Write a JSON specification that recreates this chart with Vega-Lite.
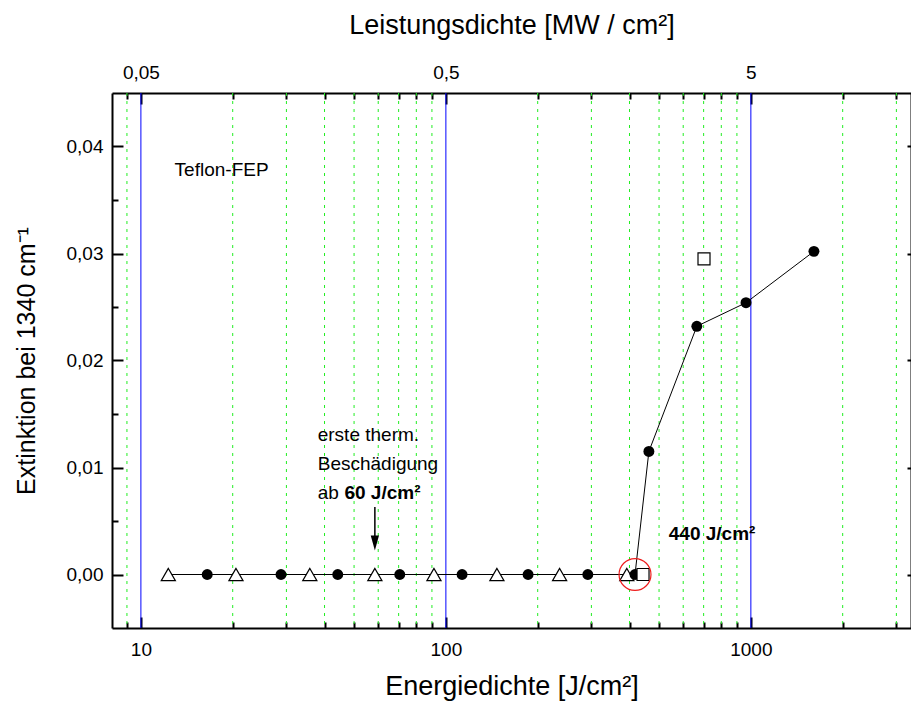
{
  "$schema": "https://vega.github.io/schema/vega-lite/v6.json",
  "width": 799,
  "height": 535,
  "autosize": "none",
  "padding": {"left": 112, "top": 93, "right": 0, "bottom": 85},
  "background": "white",
  "config": {
    "view": {"stroke": null},
    "font": "Liberation Sans",
    "axis": {
      "labelFont": "Liberation Sans",
      "titleFont": "Liberation Sans",
      "labelFontSize": 19,
      "titleFontSize": 27,
      "titleFontWeight": "normal",
      "labelColor": "black",
      "titleColor": "black",
      "domainColor": "black",
      "domainWidth": 2,
      "tickColor": "black",
      "tickWidth": 2,
      "grid": false
    }
  },
  "datasets": {
    "pts": [
      {"E": 12.3, "ext": 0, "series": "Dreieck"},
      {"E": 20.5, "ext": 0, "series": "Dreieck"},
      {"E": 35.8, "ext": 0, "series": "Dreieck"},
      {"E": 58.5, "ext": 0, "series": "Dreieck"},
      {"E": 91.4, "ext": 0, "series": "Dreieck"},
      {"E": 147, "ext": 0, "series": "Dreieck"},
      {"E": 236, "ext": 0, "series": "Dreieck"},
      {"E": 392, "ext": 0, "series": "Dreieck"},
      {"E": 16.5, "ext": 0, "series": "Kreis"},
      {"E": 28.8, "ext": 0, "series": "Kreis"},
      {"E": 44.2, "ext": 0, "series": "Kreis"},
      {"E": 70.6, "ext": 0, "series": "Kreis"},
      {"E": 113, "ext": 0, "series": "Kreis"},
      {"E": 186, "ext": 0, "series": "Kreis"},
      {"E": 292, "ext": 0, "series": "Kreis"},
      {"E": 417, "ext": 0, "series": "Kreis"},
      {"E": 463, "ext": 0.0115, "series": "Kreis"},
      {"E": 665, "ext": 0.0232, "series": "Kreis"},
      {"E": 964, "ext": 0.0254, "series": "Kreis"},
      {"E": 1610, "ext": 0.0302, "series": "Kreis"},
      {"E": 443, "ext": 0, "series": "Quadrat"},
      {"E": 702, "ext": 0.0295, "series": "Quadrat"}
    ],
    "minorGrid": [
      {"E": 9}, {"E": 20}, {"E": 30}, {"E": 40}, {"E": 50}, {"E": 60}, {"E": 70}, {"E": 80}, {"E": 90},
      {"E": 200}, {"E": 300}, {"E": 400}, {"E": 500}, {"E": 600}, {"E": 700}, {"E": 800}, {"E": 900},
      {"E": 2000}, {"E": 3000}
    ],
    "majorGrid": [{"E": 10}, {"E": 100}, {"E": 1000}],
    "one": [{}]
  },
  "resolve": {"axis": {"x": "independent", "y": "independent"}},
  "layer": [
    {
      "data": {"name": "minorGrid"},
      "mark": {"type": "rule", "color": "#22ee22", "strokeWidth": 1, "strokeDash": [3, 5]},
      "encoding": {
        "x": {
          "field": "E", "type": "quantitative",
          "scale": {"type": "log", "domain": [8.04, 3350], "nice": false},
          "axis": {"orient": "bottom", "values": [9, 20, 30, 40, 50, 60, 70, 80, 90, 200, 300, 400, 500, 600, 700, 800, 900, 2000, 3000], "labels": false, "tickSize": -6, "title": null, "domain": true}
        }
      }
    },
    {
      "data": {"name": "majorGrid"},
      "mark": {"type": "rule", "color": "#0000ff", "strokeWidth": 1},
      "encoding": {
        "x": {
          "field": "E", "type": "quantitative",
          "scale": {"type": "log", "domain": [8.04, 3350], "nice": false},
          "axis": {"orient": "bottom", "values": [10, 100, 1000], "labelExpr": "format(datum.value, 'd')", "tickSize": -11, "labelPadding": 23, "title": "Energiedichte [J/cm²]", "titlePadding": 14, "domain": false}
        }
      }
    },
    {
      "data": {"name": "pts"},
      "transform": [{"filter": "datum.series != 'Quadrat'"}],
      "mark": {"type": "line", "color": "black", "strokeWidth": 1},
      "encoding": {
        "x": {
          "field": "E", "type": "quantitative",
          "scale": {"type": "log", "domain": [8.04, 3350], "nice": false},
          "axis": {"orient": "top", "values": [9, 20, 30, 40, 50, 60, 70, 80, 90, 200, 300, 400, 500, 600, 700, 800, 900, 2000, 3000], "labels": false, "tickSize": -6, "title": null, "domain": true}
        },
        "y": {
          "field": "ext", "type": "quantitative",
          "scale": {"domain": [-0.005, 0.045], "nice": false, "zero": false},
          "axis": {"orient": "left", "values": [0, 0.01, 0.02, 0.03, 0.04], "labelExpr": "replace(format(datum.value, '.2f'), '.', ',')", "tickSize": -11, "labelPadding": 20, "title": "Extinktion bei 1340 cm⁻¹", "titleFontSize": 25, "titlePadding": 27, "domain": true}
        },
        "order": {"field": "E", "type": "quantitative"}
      }
    },
    {
      "data": {"name": "pts"},
      "transform": [{"filter": "datum.series == 'Dreieck'"}],
      "mark": {"type": "point", "shape": "triangle-up", "filled": true, "fill": "white", "stroke": "black", "strokeWidth": 1.2, "size": 200, "opacity": 1},
      "encoding": {
        "x": {
          "field": "E", "type": "quantitative",
          "scale": {"type": "log", "domain": [8.04, 3350], "nice": false},
          "axis": {"orient": "top", "values": [10, 100, 1000], "labelExpr": "datum.value == 10 ? '0,05' : datum.value == 100 ? '0,5' : '5'", "tickSize": -11, "labelPadding": 22, "title": "Leistungsdichte [MW / cm²]", "titlePadding": 24, "domain": false}
        },
        "y": {
          "field": "ext", "type": "quantitative",
          "scale": {"domain": [-0.005, 0.045], "nice": false, "zero": false},
          "axis": {"orient": "left", "values": [0.005, 0.015, 0.025, 0.035], "labels": false, "tickSize": -6, "title": null, "domain": false}
        }
      }
    },
    {
      "data": {"name": "pts"},
      "transform": [{"filter": "datum.series == 'Kreis'"}],
      "mark": {"type": "point", "shape": "circle", "filled": true, "color": "black", "size": 120, "opacity": 1},
      "encoding": {
        "x": {"field": "E", "type": "quantitative", "scale": {"type": "log", "domain": [8.04, 3350], "nice": false}, "axis": null},
        "y": {
          "field": "ext", "type": "quantitative",
          "scale": {"domain": [-0.005, 0.045], "nice": false, "zero": false},
          "axis": {"orient": "right", "values": [0, 0.01, 0.02, 0.03, 0.04], "labels": false, "tickSize": -4, "title": null, "domain": true}
        }
      }
    },
    {
      "data": {"name": "pts"},
      "transform": [{"filter": "datum.series == 'Quadrat'"}],
      "mark": {"type": "point", "shape": "square", "filled": true, "fill": "white", "stroke": "black", "strokeWidth": 1.2, "size": 144, "opacity": 1},
      "encoding": {
        "x": {"field": "E", "type": "quantitative", "scale": {"type": "log", "domain": [8.04, 3350], "nice": false}, "axis": null},
        "y": {"field": "ext", "type": "quantitative", "scale": {"domain": [-0.005, 0.045], "nice": false, "zero": false}, "axis": null}
      }
    },
    {
      "data": {"name": "one"},
      "mark": {"type": "point", "shape": "circle", "filled": false, "stroke": "#ee1c1c", "strokeWidth": 1.2, "size": 1020, "opacity": 1},
      "encoding": {
        "x": {"datum": 417, "type": "quantitative", "scale": {"type": "log", "domain": [8.04, 3350], "nice": false}, "axis": null},
        "y": {"datum": 0, "type": "quantitative", "scale": {"domain": [-0.005, 0.045], "nice": false, "zero": false}, "axis": null}
      }
    },
    {
      "data": {"name": "one"},
      "mark": {"type": "rule", "color": "black", "strokeWidth": 1.5},
      "encoding": {
        "x": {"datum": 58.5, "type": "quantitative", "scale": {"type": "log", "domain": [8.04, 3350], "nice": false}, "axis": null},
        "y": {"datum": 0.0063, "type": "quantitative", "scale": {"domain": [-0.005, 0.045], "nice": false, "zero": false}, "axis": null},
        "y2": {"datum": 0.0034}
      }
    },
    {
      "data": {"name": "one"},
      "mark": {"type": "point", "shape": "M-0.55,-1L0.55,-1L0,1Z", "filled": true, "color": "black", "size": 225, "opacity": 1},
      "encoding": {
        "x": {"datum": 58.5, "type": "quantitative", "scale": {"type": "log", "domain": [8.04, 3350], "nice": false}, "axis": null},
        "y": {"datum": 0.00294, "type": "quantitative", "scale": {"domain": [-0.005, 0.045], "nice": false, "zero": false}, "axis": null}
      }
    },
    {
      "data": {"name": "one"},
      "mark": {"type": "text", "align": "left", "baseline": "middle", "fontSize": 19, "font": "Liberation Sans", "color": "black"},
      "encoding": {
        "x": {"datum": 12.9, "type": "quantitative", "scale": {"type": "log", "domain": [8.04, 3350], "nice": false}, "axis": null},
        "y": {"datum": 0.0378, "type": "quantitative", "scale": {"domain": [-0.005, 0.045], "nice": false, "zero": false}, "axis": null},
        "text": {"value": "Teflon-FEP"}
      }
    },
    {
      "data": {"name": "one"},
      "mark": {"type": "text", "align": "left", "baseline": "middle", "fontSize": 19, "font": "Liberation Sans", "color": "black"},
      "encoding": {
        "x": {"datum": 38.0, "type": "quantitative", "scale": {"type": "log", "domain": [8.04, 3350], "nice": false}, "axis": null},
        "y": {"datum": 0.01308, "type": "quantitative", "scale": {"domain": [-0.005, 0.045], "nice": false, "zero": false}, "axis": null},
        "text": {"value": "erste therm."}
      }
    },
    {
      "data": {"name": "one"},
      "mark": {"type": "text", "align": "left", "baseline": "middle", "fontSize": 19, "font": "Liberation Sans", "color": "black"},
      "encoding": {
        "x": {"datum": 38.0, "type": "quantitative", "scale": {"type": "log", "domain": [8.04, 3350], "nice": false}, "axis": null},
        "y": {"datum": 0.01037, "type": "quantitative", "scale": {"domain": [-0.005, 0.045], "nice": false, "zero": false}, "axis": null},
        "text": {"value": "Beschädigung"}
      }
    },
    {
      "data": {"name": "one"},
      "mark": {"type": "text", "align": "left", "baseline": "middle", "fontSize": 19, "font": "Liberation Sans", "color": "black"},
      "encoding": {
        "x": {"datum": 38.0, "type": "quantitative", "scale": {"type": "log", "domain": [8.04, 3350], "nice": false}, "axis": null},
        "y": {"datum": 0.00766, "type": "quantitative", "scale": {"domain": [-0.005, 0.045], "nice": false, "zero": false}, "axis": null},
        "text": {"value": "ab"}
      }
    },
    {
      "data": {"name": "one"},
      "mark": {"type": "text", "align": "left", "baseline": "middle", "fontSize": 19, "fontWeight": "bold", "font": "Liberation Sans", "color": "black"},
      "encoding": {
        "x": {"datum": 46.5, "type": "quantitative", "scale": {"type": "log", "domain": [8.04, 3350], "nice": false}, "axis": null},
        "y": {"datum": 0.00766, "type": "quantitative", "scale": {"domain": [-0.005, 0.045], "nice": false, "zero": false}, "axis": null},
        "text": {"value": "60 J/cm²"}
      }
    },
    {
      "data": {"name": "one"},
      "mark": {"type": "text", "align": "left", "baseline": "middle", "fontSize": 19, "fontWeight": "bold", "font": "Liberation Sans", "color": "black"},
      "encoding": {
        "x": {"datum": 538, "type": "quantitative", "scale": {"type": "log", "domain": [8.04, 3350], "nice": false}, "axis": null},
        "y": {"datum": 0.00374, "type": "quantitative", "scale": {"domain": [-0.005, 0.045], "nice": false, "zero": false}, "axis": null},
        "text": {"value": "440 J/cm²"}
      }
    }
  ]
}
